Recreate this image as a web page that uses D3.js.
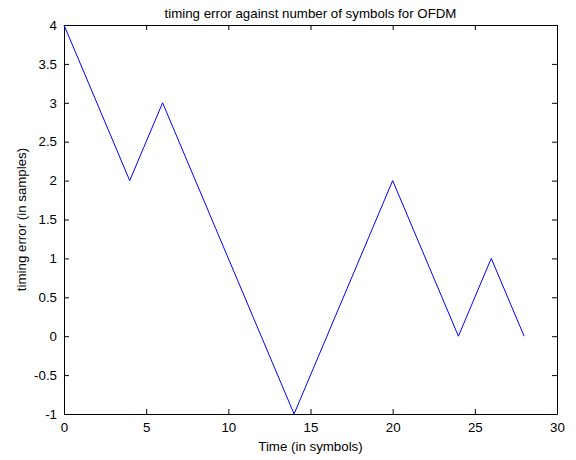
<!DOCTYPE html>
<html>
<head>
<meta charset="utf-8">
<script src="https://cdn.jsdelivr.net/npm/d3@7"></script>
<style>
  body { margin: 0; background: #fff; }
  svg text { font-family: "Liberation Sans", Arial, sans-serif; fill: #000; }
</style>
</head>
<body>
<div id="chart"></div>
<script>
// symbol index and timing error
const symbols = [0, 4, 6, 14, 20, 24, 26, 28]
const timingError = [4, 2, 3, -1, 2, 0, 1, 0]
const xTicks = [0, 5, 10, 15, 20, 25, 30]
const yTicks = [-1, -0.5, 0, 0.5, 1, 1.5, 2, 2.5, 3, 3.5, 4]

const W = 576, H = 460
const margin = {top: 25, right: 19, bottom: 46, left: 64}
const width = W - margin.left - margin.right
const height = H - margin.top - margin.bottom

const svg = d3.select('#chart').append('svg')
  .attr('width', W).attr('height', H)

const g = svg.append('g')
  .attr('transform', 'translate(' + margin.left + ',' + margin.top + ')')

const x = d3.scaleLinear().domain([0, 30]).range([0, width])
const y = d3.scaleLinear().domain([-1, 4]).range([height, 0])

const fmt = d => String(d)

// bottom / top axes with inward ticks
g.append('g')
  .attr('transform', 'translate(0,' + height + ')')
  .call(d3.axisBottom(x).tickValues(xTicks).tickFormat(fmt).tickSizeInner(-5).tickSizeOuter(0).tickPadding(9))
g.append('g')
  .call(d3.axisTop(x).tickValues(xTicks).tickFormat('').tickSizeInner(-5).tickSizeOuter(0))
g.append('g')
  .call(d3.axisLeft(y).tickValues(yTicks).tickFormat(fmt).tickSizeInner(-5).tickSizeOuter(0).tickPadding(7))
g.append('g')
  .attr('transform', 'translate(' + width + ',0)')
  .call(d3.axisRight(y).tickValues(yTicks).tickFormat('').tickSizeInner(-5).tickSizeOuter(0))

g.selectAll('.domain').attr('stroke', '#000').attr('stroke-width', 1)
g.selectAll('.tick line').attr('stroke', '#000')
g.selectAll('.tick text').style('font-size', '13.3px').attr('fill', '#000')

const line = d3.line()
  .x((d, i) => x(symbols[i]))
  .y(d => y(d))

g.append('path')
  .datum(timingError)
  .attr('d', line)
  .attr('fill', 'none')
  .attr('stroke', '#0000ff')
  .attr('stroke-width', 1)

svg.append('text')
  .attr('x', margin.left + width / 2)
  .attr('y', 17.5)
  .attr('text-anchor', 'middle')
  .style('font-size', '13.3px')
  .text('timing error against number of symbols for OFDM')

svg.append('text')
  .attr('x', margin.left + width / 2)
  .attr('y', H - 9)
  .attr('text-anchor', 'middle')
  .style('font-size', '13.3px')
  .text('Time (in symbols)')

svg.append('text')
  .attr('transform', 'translate(26,' + (margin.top + height / 2) + ') rotate(-90)')
  .attr('text-anchor', 'middle')
  .style('font-size', '13.3px')
  .text('timing error (in samples)')
</script>
</body>
</html>
